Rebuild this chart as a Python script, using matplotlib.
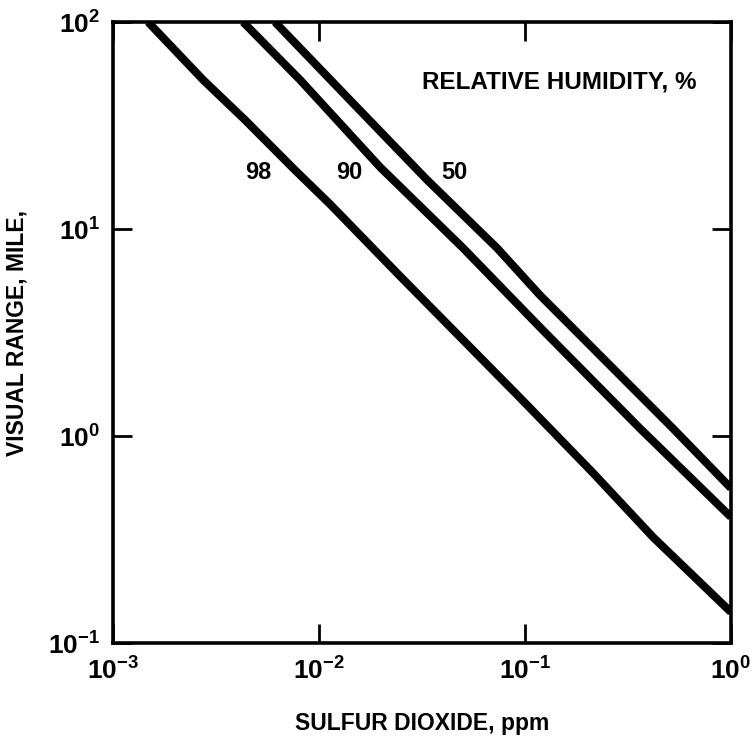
import math
import matplotlib
matplotlib.use("Agg")
import matplotlib.pyplot as plt
from matplotlib.ticker import FixedLocator, FuncFormatter, NullLocator

plt.rcParams['font.family'] = ['Liberation Sans', 'DejaVu Sans']
plt.rcParams['mathtext.fontset'] = 'custom'
plt.rcParams['mathtext.rm'] = 'Liberation Sans'
plt.rcParams['mathtext.bf'] = 'Liberation Sans:bold'

# Visual range vs. SO2 concentration at three relative humidities
so2_rh98 = [0.00148, 0.00274, 0.00438, 0.00763, 0.0113, 0.0247, 0.0946, 0.214, 0.418, 1.0]
vis_rh98 = [100, 52.5, 33.6, 19.3, 13.2, 5.93, 1.53, 0.663, 0.325, 0.141]

so2_rh90 = [0.00428, 0.0081, 0.0198, 0.050, 0.118, 0.361, 1.0]
vis_rh90 = [100, 52.5, 19.9, 8.1, 3.36, 1.09, 0.406]

so2_rh50 = [0.00611, 0.0146, 0.0334, 0.0731, 0.118, 0.522, 1.0]
vis_rh50 = [100, 40.6, 17.3, 8.1, 4.80, 1.09, 0.56]

curve_labels = ["98", "90", "50"]
x_ticks = [1e-3, 1e-2, 1e-1, 1e0]
y_ticks = [1e-1, 1e0, 1e1, 1e2]

fig = plt.figure(figsize=(7.55, 7.37), dpi=100)
ax = fig.add_axes([0.1497, 0.1275, 0.8185, 0.8426])

for xs, ys in [(so2_rh98, vis_rh98), (so2_rh90, vis_rh90), (so2_rh50, vis_rh50)]:
    ax.plot(xs, ys, color='black', lw=5.8, solid_capstyle='butt',
            solid_joinstyle='round')

ax.set_xscale('log')
ax.set_yscale('log')
ax.set_xlim(1e-3, 1e0)
ax.set_ylim(1e-1, 1e2)


def power_label(v, pos):
    e = int(round(math.log10(v)))
    return r'$\mathbf{10^{%d}}$' % e


ax.xaxis.set_major_locator(FixedLocator(x_ticks))
ax.yaxis.set_major_locator(FixedLocator(y_ticks))
ax.xaxis.set_minor_locator(NullLocator())
ax.yaxis.set_minor_locator(NullLocator())
ax.xaxis.set_major_formatter(FuncFormatter(power_label))
ax.yaxis.set_major_formatter(FuncFormatter(power_label))

ax.tick_params(which='major', direction='in', length=14, width=2,
               top=True, right=True, labelsize=19, pad=10)
ax.tick_params(axis='y', pad=9)
for s in ax.spines.values():
    s.set_linewidth(2.6)

ax.set_xlabel('SULFUR DIOXIDE, ppm', fontsize=16.5, fontweight='bold', labelpad=20)
ax.set_ylabel('VISUAL RANGE, MILE,', fontsize=16.5, fontweight='bold', labelpad=14)

for lbl, xpos in zip(curve_labels, [0.235, 0.383, 0.553]):
    ax.text(xpos, 0.758, lbl, transform=ax.transAxes, ha='center', va='center',
            fontsize=17, fontweight='bold')
ax.text(0.722, 0.903, 'RELATIVE HUMIDITY, %', transform=ax.transAxes,
        ha='center', va='center', fontsize=17.5, fontweight='bold')

fig.savefig('out.png', dpi=100)
